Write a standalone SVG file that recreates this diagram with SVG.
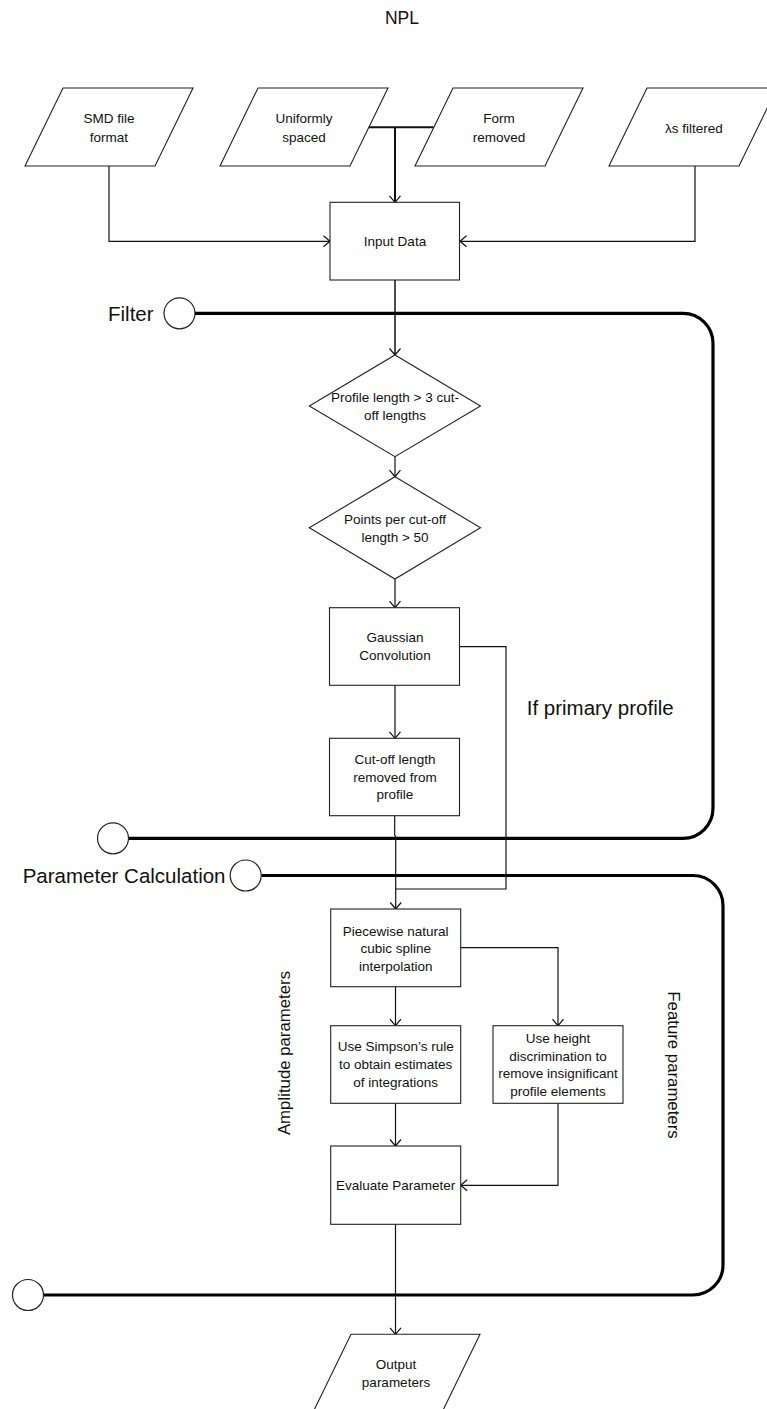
<svg xmlns="http://www.w3.org/2000/svg" width="767" height="1409" viewBox="0 0 767 1409">
<style>
  .shape { fill: #ffffff; stroke: #222222; stroke-width: 1.1; }
  .t { font-family: "Liberation Sans", Arial, sans-serif; font-size: 13.5px; fill: #111111; text-anchor: middle; }
  .big { font-family: "Liberation Sans", Arial, sans-serif; font-size: 20.5px; fill: #111111; }
  .side { font-family: "Liberation Sans", Arial, sans-serif; font-size: 16.8px; fill: #111111; text-anchor: middle; }
  .conn { fill: none; stroke: #111111; stroke-width: 1.2; }
  .loop { fill: none; stroke: #000000; stroke-width: 3.2; }
  .term { fill: #ffffff; stroke: #222222; stroke-width: 1.2; }
</style>
<defs>
  <marker id="arr" markerUnits="userSpaceOnUse" markerWidth="14" markerHeight="14" viewBox="-8 -7 10 14" refX="0" refY="0" orient="auto">
    <path d="M-6.5,-5.5 L0,0 L-6.5,5.5" fill="none" stroke="#111111" stroke-width="1.2"/>
  </marker>
</defs>

<text x="402" y="24" class="big" style="font-size:17.5px" text-anchor="middle">NPL</text>

<!-- loops -->
<g id="loops">
  <path class="loop" d="M195,313.3 H683 A30,30 0 0 1 713,343.3 V808.3 A30,30 0 0 1 683,838.3 H128.5"/>
  <path class="loop" d="M261.5,875.5 H693 A30,30 0 0 1 723,905.5 V1265 A30,30 0 0 1 693,1295 H43.5"/>
</g>

<!-- connectors -->
<g id="connectors">
  <path class="conn" d="M109,166 V241.3 H330" marker-end="url(#arr)"/>
  <path class="conn" d="M695,166 V241.3 H460" marker-end="url(#arr)"/>
  <path class="conn" style="stroke-width:2" d="M369,127.3 H433.5"/>
  <path class="conn" style="stroke-width:2" d="M395,127.3 V202.3" marker-end="url(#arr)"/>
  <path class="conn" style="stroke-width:1.5" d="M395,280 V355" marker-end="url(#arr)"/>
  <path class="conn" d="M395,456.7 V476.7" marker-end="url(#arr)"/>
  <path class="conn" d="M395,579 V607.7" marker-end="url(#arr)"/>
  <path class="conn" d="M395,685.3 V738.3" marker-end="url(#arr)"/>
  <path class="conn" d="M459.3,646.7 H506 V889 H395.7"/>
  <path class="conn" d="M394.7,815.7 V835 L395.7,837 V909" marker-end="url(#arr)"/>
  <path class="conn" d="M395.5,986.7 V1025.7" marker-end="url(#arr)"/>
  <path class="conn" d="M460.7,947.7 H558 V1025.7" marker-end="url(#arr)"/>
  <path class="conn" d="M395.5,1103.3 V1146" marker-end="url(#arr)"/>
  <path class="conn" d="M558,1103.3 V1185.3 H460.7" marker-end="url(#arr)"/>
  <path class="conn" d="M395.5,1224.3 V1334.3" marker-end="url(#arr)"/>
</g>

<!-- terminators -->
<g id="filter-start">
  <text x="108" y="320.5" class="big">Filter</text>
  <circle class="term" cx="179.5" cy="313.3" r="15.5"/>
</g>
<g id="filter-end">
  <circle class="term" cx="113" cy="838.3" r="15.5"/>
</g>
<g id="param-start">
  <text x="22.7" y="882.5" class="big">Parameter Calculation</text>
  <circle class="term" cx="245.7" cy="875.5" r="15.5"/>
</g>
<g id="param-end">
  <circle class="term" cx="28" cy="1295" r="15.5"/>
</g>

<!-- input parallelograms -->
<g id="smd">
  <polygon class="shape" points="63,88 193,88 155,166 25,166"/>
  <text class="t" x="109" y="123">SMD file</text>
  <text class="t" x="109" y="142">format</text>
</g>
<g id="uniform">
  <polygon class="shape" points="258,88 388,88 350,166 220,166"/>
  <text class="t" x="304" y="123">Uniformly</text>
  <text class="t" x="304" y="142">spaced</text>
</g>
<g id="form">
  <polygon class="shape" points="453,88 583,88 545,166 415,166"/>
  <text class="t" x="499" y="123">Form</text>
  <text class="t" x="499" y="142">removed</text>
</g>
<g id="lambda">
  <polygon class="shape" points="647,88 777,88 739,166 609,166"/>
  <text class="t" x="694" y="132.5">λs filtered</text>
</g>

<g id="input-data">
  <rect class="shape" x="330" y="202.3" width="129.5" height="77.7"/>
  <text class="t" x="395" y="246">Input Data</text>
</g>

<g id="decision-length">
  <polygon class="shape" points="395,355 480.5,406 395,456.7 309.3,406"/>
  <text class="t" x="395" y="402">Profile length &gt; 3 cut-</text>
  <text class="t" x="395" y="420">off lengths</text>
</g>
<g id="decision-points">
  <polygon class="shape" points="395,476.7 480.5,527.7 395,579 309.3,527.7"/>
  <text class="t" x="395" y="524">Points per cut-off</text>
  <text class="t" x="395" y="541.7">length &gt; 50</text>
</g>

<g id="gaussian">
  <rect class="shape" x="329.5" y="607.7" width="130" height="77.6"/>
  <text class="t" x="395" y="642">Gaussian</text>
  <text class="t" x="395" y="660">Convolution</text>
</g>
<g id="cutoff">
  <rect class="shape" x="329.5" y="738.3" width="130" height="77.4"/>
  <text class="t" x="395" y="764">Cut-off length</text>
  <text class="t" x="395" y="782">removed from</text>
  <text class="t" x="395" y="799">profile</text>
</g>

<text x="526.7" y="714.5" class="big">If primary profile</text>

<g id="spline">
  <rect class="shape" x="330.7" y="909" width="130" height="77.7"/>
  <text class="t" x="395.7" y="936">Piecewise natural</text>
  <text class="t" x="395.7" y="953">cubic spline</text>
  <text class="t" x="395.7" y="971">interpolation</text>
</g>
<g id="simpson">
  <rect class="shape" x="330.7" y="1025.7" width="130" height="77.6"/>
  <text class="t" x="395.7" y="1051">Use Simpson’s rule</text>
  <text class="t" x="395.7" y="1069">to obtain estimates</text>
  <text class="t" x="395.7" y="1087">of integrations</text>
</g>
<g id="height">
  <rect class="shape" x="493" y="1025.7" width="130" height="77.6"/>
  <text class="t" x="558" y="1043">Use height</text>
  <text class="t" x="558" y="1061">discrimination to</text>
  <text class="t" x="558" y="1078">remove insignificant</text>
  <text class="t" x="558" y="1096">profile elements</text>
</g>
<g id="evaluate">
  <rect class="shape" x="330.7" y="1146" width="130" height="78.3"/>
  <text class="t" x="395.7" y="1190">Evaluate Parameter</text>
</g>

<text class="side" transform="translate(285,1053) rotate(-90)" x="0" y="5">Amplitude parameters</text>
<text class="side" transform="translate(673,1065) rotate(90)" x="0" y="5">Feature parameters</text>

<g id="output">
  <polygon class="shape" points="351,1334.3 480,1334.3 442,1412.3 313,1412.3"/>
  <text class="t" x="396" y="1369">Output</text>
  <text class="t" x="396" y="1387">parameters</text>
</g>
</svg>
